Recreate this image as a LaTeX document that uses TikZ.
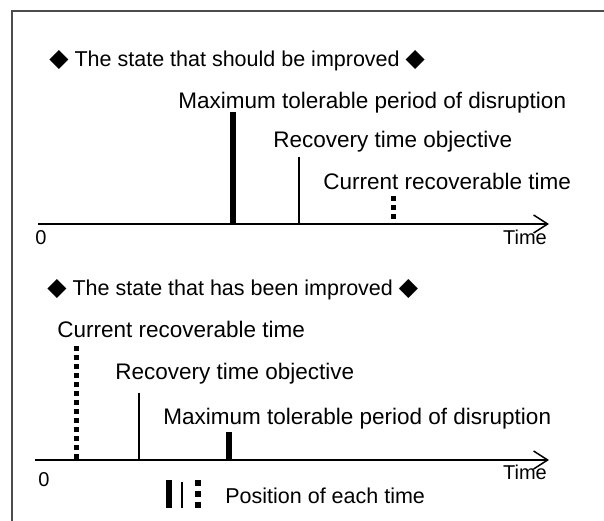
\documentclass[tikz,border=0pt]{standalone}
\usepackage{fontspec}
\setmainfont{Liberation Sans}
\newfontfamily\diafont{DejaVu Sans}
\usetikzlibrary{arrows.meta, positioning}

\newcommand{\dia}{{\diafont\fontsize{25}{25}\selectfont ◆}}

\begin{document}
\begin{tikzpicture}[x=1pt, y=1pt, thick]
    % Styles
    \tikzstyle{timelabel} = [anchor=base west, inner sep=0pt, font=\fontsize{22.5}{27}\selectfont]
    \tikzstyle{headline} = [anchor=base west, inner sep=0pt, font=\fontsize{21.5}{25}\selectfont]
    \tikzstyle{axistext} = [anchor=base, inner sep=0pt, font=\fontsize{20}{24}\selectfont]
    \tikzstyle{axisline} = [line width=1.5pt, -{Straight Barb[length=14pt, width=18pt]}]
    \tikzstyle{mtpdbar} = [line width=6pt]
    \tikzstyle{rtobar} = [line width=1.2pt]
    \tikzstyle{crtbar} = [line width=5pt, dash pattern=on 5pt off 4pt]
    \tikzstyle{frame} = [line width=1.5pt, gray!60!black]

    \useasboundingbox (0,0) rectangle (604,521);

    % Frame
    \coordinate (FrameBL) at (12,0);
    \coordinate (FrameTL) at (12,510);
    \coordinate (FrameTR) at (604,510);
    \draw [frame] (FrameBL) -- (FrameTL) -- (FrameTR);

    % Before: the state that should be improved
    \node (Title1) [headline] at (49,454) {\dia\ The state that should be improved \dia};
    \node (Mtpd1) [timelabel] at (178,412.5) {Maximum tolerable period of disruption};
    \node (Rto1) [timelabel] at (273,373.5) {Recovery time objective};
    \node (Crt1) [timelabel] at (323,331.5) {Current recoverable time};

    \coordinate (Axis1Start) at (38,297);
    \coordinate (Axis1End) at (549,297);
    \draw [axisline] (Axis1Start) -- (Axis1End);
    \node (Zero1) [axistext] at (41,276) {0};
    \node (Time1) [axistext] at (525,276) {Time};

    \coordinate (Mtpd1Top) at (233,409);
    \coordinate (Rto1Top) at (299,364);
    \coordinate (Crt1Top) at (393,325);
    \draw [mtpdbar] (Mtpd1Top) -- (Mtpd1Top |- Axis1Start);
    \draw [rtobar] (Rto1Top) -- (Rto1Top |- Axis1Start);
    \draw [crtbar] (Crt1Top) -- (Crt1Top |- Axis1Start);

    % After: the state that has been improved
    \node (Title2) [headline] at (47,225) {\dia\ The state that has been improved \dia};
    \node (Crt2) [timelabel] at (57,183.5) {Current recoverable time};
    \node (Rto2) [timelabel] at (115,141.5) {Recovery time objective};
    \node (Mtpd2) [timelabel] at (163,96.5) {Maximum tolerable period of disruption};

    \coordinate (Axis2Start) at (35,61);
    \coordinate (Axis2End) at (549,61);
    \draw [axisline] (Axis2Start) -- (Axis2End);
    \node (Zero2) [axistext] at (44,34) {0};
    \node (Time2) [axistext] at (525,41) {Time};

    \coordinate (Crt2Top) at (76,175);
    \coordinate (Rto2Top) at (139,128);
    \coordinate (Mtpd2Top) at (229,89);
    \draw [crtbar] (Crt2Top) -- (Crt2Top |- Axis2Start);
    \draw [rtobar] (Rto2Top) -- (Rto2Top |- Axis2Start);
    \draw [mtpdbar] (Mtpd2Top) -- (Mtpd2Top |- Axis2Start);

    % Legend
    \coordinate (KeyMtpd) at (169,41);
    \coordinate (KeyRto) at (182,39);
    \coordinate (KeyCrt) at (198,41);
    \draw [mtpdbar] (KeyMtpd) -- ++(0,-28);
    \draw [rtobar] (KeyRto) -- ++(0,-26);
    \draw [crtbar, line width=5.5pt, dash pattern=on 6pt off 5pt] (KeyCrt) -- ++(0,-28);
    \node (KeyText) [headline] at (225,17) {Position of each time};

\end{tikzpicture}
\end{document}
